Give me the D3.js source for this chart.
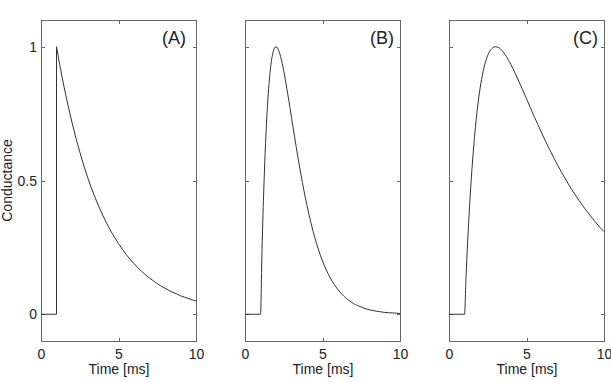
<!DOCTYPE html>
<html>
<head>
<meta charset="utf-8">
<script src="https://cdn.jsdelivr.net/npm/d3@7"></script>
<style>
  html, body { margin: 0; padding: 0; background: #fff; }
  svg { display: block; }
  text { font-family: "Liberation Sans", Arial, Helvetica, sans-serif; fill: #222; }
</style>
</head>
<body>
<svg id="chart" width="611" height="382"></svg>
<script>
// ---- data ----
const panelLabels = ["(A)", "(B)", "(C)"];
const xTicks = [0, 5, 10];
const yTicks = [0, 0.5, 1];
const yTickLabels = ["0", "0.5", "1"];
const xLabel = "Time [ms]";
const yLabel = "Conductance";

// Panel A: instantaneous rise at 1 ms, exponential decay
const timeA = [0, 1, 1, 1.25, 1.5, 1.75, 2, 2.25, 2.5, 2.75, 3, 3.25, 3.5, 3.75, 4, 4.25, 4.5, 4.75, 5,
  5.25, 5.5, 5.75, 6, 6.25, 6.5, 6.75, 7, 7.25, 7.5, 7.75, 8, 8.25, 8.5, 8.75, 9, 9.25, 9.5, 9.75, 10];
const condA = [0, 0, 1, 0.920, 0.846, 0.779, 0.717, 0.659, 0.607, 0.558, 0.513, 0.472, 0.435, 0.400, 0.368,
  0.339, 0.311, 0.287, 0.264, 0.243, 0.223, 0.205, 0.189, 0.174, 0.160, 0.147, 0.135, 0.125, 0.115, 0.105,
  0.097, 0.089, 0.082, 0.076, 0.069, 0.064, 0.059, 0.054, 0.050];

// Panels B and C share one time grid
const timeBC = [0, 1,
  1.1, 1.2, 1.3, 1.4, 1.5, 1.6, 1.7, 1.8, 1.9, 2.0,
  2.1, 2.2, 2.3, 2.4, 2.5, 2.6, 2.7, 2.8, 2.9, 3.0,
  3.1, 3.2, 3.3, 3.4, 3.5, 3.6, 3.7, 3.8, 3.9, 4.0,
  4.25, 4.5, 4.75, 5, 5.25, 5.5, 5.75, 6, 6.25, 6.5, 6.75, 7,
  7.25, 7.5, 7.75, 8, 8.25, 8.5, 8.75, 9, 9.25, 9.5, 9.75, 10];
const condB = [0, 0,
  0.246, 0.445, 0.604, 0.729, 0.824, 0.895, 0.945, 0.977, 0.995, 1.000,
  0.995, 0.982, 0.963, 0.938, 0.910, 0.878, 0.844, 0.809, 0.773, 0.736,
  0.699, 0.663, 0.627, 0.592, 0.558, 0.525, 0.493, 0.463, 0.434, 0.406,
  0.343, 0.287, 0.240, 0.199, 0.165, 0.136, 0.112, 0.092, 0.075, 0.061, 0.050, 0.040,
  0.033, 0.027, 0.021, 0.017, 0.014, 0.011, 0.009, 0.007, 0.006, 0.005, 0.004, 0.003];
const condC = [0, 0,
  0.141, 0.266, 0.376, 0.473, 0.558, 0.632, 0.697, 0.753, 0.801, 0.843,
  0.878, 0.907, 0.932, 0.952, 0.968, 0.980, 0.989, 0.995, 0.999, 1.000,
  0.999, 0.997, 0.993, 0.987, 0.980, 0.972, 0.964, 0.954, 0.944, 0.933,
  0.903, 0.872, 0.839, 0.806, 0.772, 0.739, 0.707, 0.675, 0.644, 0.615, 0.586, 0.558,
  0.532, 0.507, 0.482, 0.459, 0.437, 0.416, 0.396, 0.377, 0.358, 0.341, 0.324, 0.309];

const panels = [
  { label: panelLabels[0], t: timeA, g: condA, curve: d3.curveLinear },
  { label: panelLabels[1], t: timeBC, g: condB, curve: d3.curveMonotoneX },
  { label: panelLabels[2], t: timeBC, g: condC, curve: d3.curveMonotoneX }
];

// ---- layout ----
const svg = d3.select("#chart");
const panelLefts = [41, 245, 449];
const panelW = 155;
const plotTop = 20, plotBottom = 341;
const labelOffsets = [121, 125, 124];
const axisColor = "#666";
const tickLen = 3;
const fs = 14;

const y = d3.scaleLinear().domain([-0.1, 1.1]).range([plotBottom, plotTop]);

panels.forEach((p, i) => {
  const left = panelLefts[i];
  const x = d3.scaleLinear().domain([0, 10]).range([left, left + panelW]);
  const g = svg.append("g");

  // frame
  g.append("rect")
    .attr("x", left + 0.5).attr("y", plotTop + 0.5)
    .attr("width", panelW).attr("height", plotBottom - plotTop)
    .attr("fill", "none").attr("stroke", axisColor).attr("stroke-width", 1);

  // inward ticks (MATLAB style, mirrored)
  xTicks.forEach(v => {
    const xx = Math.round(x(v)) + 0.5;
    g.append("line").attr("x1", xx).attr("x2", xx).attr("y1", plotBottom).attr("y2", plotBottom - tickLen)
      .attr("stroke", axisColor);
    g.append("line").attr("x1", xx).attr("x2", xx).attr("y1", plotTop + 1).attr("y2", plotTop + 1 + tickLen)
      .attr("stroke", axisColor);
  });
  yTicks.forEach(v => {
    const yy = Math.round(y(v)) + 0.5;
    g.append("line").attr("x1", left + 1).attr("x2", left + 1 + tickLen).attr("y1", yy).attr("y2", yy)
      .attr("stroke", axisColor);
    g.append("line").attr("x1", left + panelW).attr("x2", left + panelW - tickLen).attr("y1", yy).attr("y2", yy)
      .attr("stroke", axisColor);
  });

  // x tick labels
  g.selectAll("text.xt").data(xTicks).enter().append("text")
    .attr("x", d => x(d) + 0.5).attr("y", 359)
    .attr("text-anchor", "middle").attr("font-size", fs)
    .text(d => d);

  // x label
  g.append("text")
    .attr("x", x(5) + 0.5).attr("y", 373.5)
    .attr("text-anchor", "middle").attr("font-size", fs)
    .text(xLabel);

  // y tick labels (only first panel)
  if (i === 0) {
    g.selectAll("text.yt").data(yTicks).enter().append("text")
      .attr("x", left - 4).attr("y", d => y(d) + 5)
      .attr("text-anchor", "end").attr("font-size", fs)
      .text((d, k) => yTickLabels[k]);
    g.append("text")
      .attr("transform", `translate(${left - 29},${(plotTop + plotBottom) / 2}) rotate(-90)`)
      .attr("text-anchor", "middle").attr("font-size", fs)
      .text(yLabel);
  }

  // curve
  const line = d3.line()
    .x((d, k) => x(p.t[k]))
    .y(d => y(d))
    .curve(p.curve);
  g.append("path")
    .attr("d", line(p.g))
    .attr("fill", "none").attr("stroke", "#333").attr("stroke-width", 1);

  // panel label
  g.append("text")
    .attr("x", left + labelOffsets[i]).attr("y", 44)
    .attr("font-size", 18)
    .text(p.label);
});
</script>
</body>
</html>
